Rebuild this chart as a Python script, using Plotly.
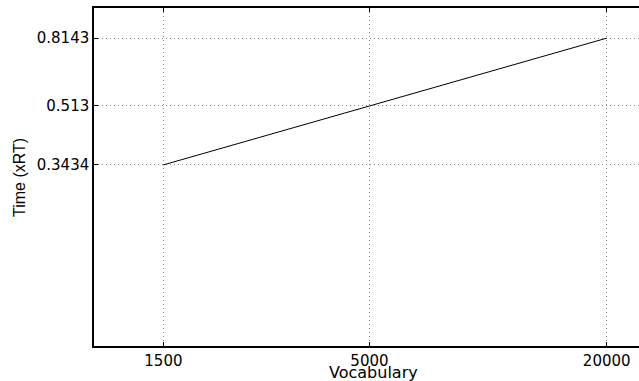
import plotly.graph_objects as go

vocabulary = [1500, 5000, 20000]
time_xrt = [0.3434, 0.513, 0.8143]
x_ticks = [1500, 5000, 20000]
y_ticks = [0.3434, 0.513, 0.8143]

fig = go.Figure()
fig.add_trace(go.Scatter(x=vocabulary, y=time_xrt, mode="lines",
                         line=dict(color="black", width=1), showlegend=False))

tick_font = dict(family="DejaVu Sans", size=15, color="black")
grid = dict(showgrid=True, gridcolor="#8a8a8a", griddash="1px,3px", gridwidth=1)
fig.update_layout(
    width=639, height=381,
    margin=dict(l=94, r=0, t=8, b=35),
    paper_bgcolor="white", plot_bgcolor="white",
    xaxis=dict(type="log", range=[3, 4.383], tickvals=x_ticks,
               ticktext=[str(v) for v in x_ticks], automargin=False,
               showline=True, linecolor="black", linewidth=1.5, mirror="ticks",
               ticks="inside", ticklen=4, tickcolor="black",
               zeroline=False, tickfont=tick_font, **grid),
    yaxis=dict(type="log", range=[-1, 0], tickvals=y_ticks,
               ticktext=[str(v) for v in y_ticks], automargin=False,
               showline=True, linecolor="black", linewidth=1.5, mirror=False,
               ticks="inside", ticklen=4, tickcolor="black",
               zeroline=False, tickfont=tick_font, **grid),
    annotations=[
        dict(text="Vocabulary", xref="paper", yref="paper", x=0.512, y=-0.077,
             xanchor="center", yanchor="middle", showarrow=False,
             font=dict(family="DejaVu Sans", size=16, color="black")),
        dict(text="Time (xRT)", xref="paper", yref="paper", x=-0.1376, y=0.497,
             xanchor="center", yanchor="middle", showarrow=False, textangle=-90,
             font=dict(family="Liberation Sans", size=16, color="black")),
    ],
)
fig.write_html("out.html", config={"displayModeBar": False},
               post_script="document.body.style.margin='0';document.body.style.padding='0';")
